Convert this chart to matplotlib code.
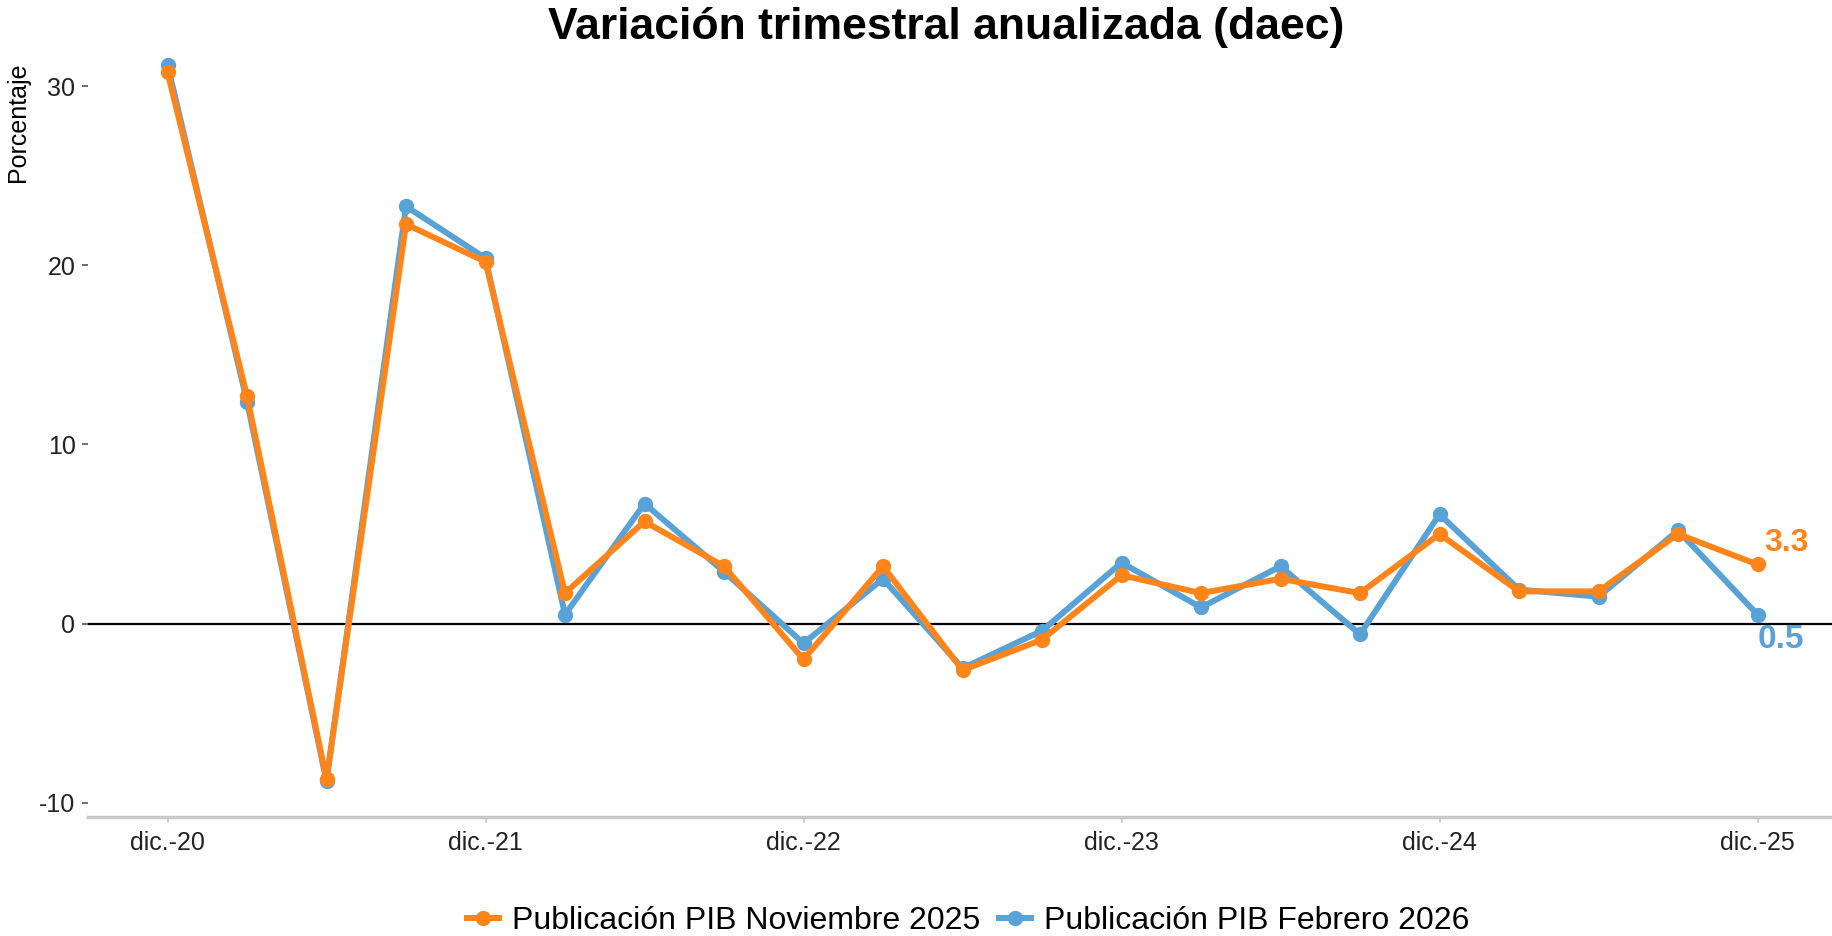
import numpy as np
import matplotlib
matplotlib.use("Agg")
import matplotlib.pyplot as plt
from matplotlib.lines import Line2D

plt.rcParams['font.family'] = ['Liberation Sans', 'DejaVu Sans']
plt.rcParams['axes.unicode_minus'] = False

# trimestres dic-20 .. dic-25
quarters = np.arange(21)
tick_pos = [0, 4, 8, 12, 16, 20]
tick_labels = ['dic.-20', 'dic.-21', 'dic.-22', 'dic.-23', 'dic.-24', 'dic.-25']

nov_2025 = [30.8, 12.7, -8.7, 22.3, 20.2, 1.7, 5.7, 3.2, -2.0, 3.2, -2.6,
            -0.9, 2.7, 1.7, 2.5, 1.7, 5.0, 1.8, 1.8, 5.0, 3.3]
feb_2026 = [31.2, 12.4, -8.8, 23.3, 20.4, 0.5, 6.7, 2.9, -1.1, 2.5, -2.5,
            -0.4, 3.4, 0.9, 3.2, -0.6, 6.1, 1.9, 1.5, 5.2, 0.5]

c_nov = '#FF851B'
c_feb = '#58A2D8'

W, H = 1832, 936
fig = plt.figure(figsize=(W / 100, H / 100), dpi=100)
ax = fig.add_axes([88 / W, 1 - 817 / H, (1837 - 88) / W, (817 - 29) / H])

ax.axhline(0, color='black', lw=1.6, zorder=1)
ax.plot(quarters, feb_2026, color=c_feb, lw=4.3, marker='o', ms=10, zorder=2,
        label='Publicación PIB Febrero 2026')
ax.plot(quarters, nov_2025, color=c_nov, lw=4.3, marker='o', ms=10, zorder=3,
        label='Publicación PIB Noviembre 2025')

ax.text(quarters[-1] + 0.08, nov_2025[-1] + 0.35, f'{nov_2025[-1]:.1f}', color=c_nov,
        fontsize=23, fontweight='bold', ha='left', va='bottom')
ax.text(quarters[-1] + 0.0, feb_2026[-1] - 0.5, f'{feb_2026[-1]:.1f}', color=c_feb,
        fontsize=24, fontweight='bold', ha='left', va='top')

ax.set_xlim(-1, 21)
ax.set_ylim(-10.8, 33.2)
ax.set_xticks(tick_pos)
ax.set_xticklabels(tick_labels)
ax.set_yticks([-10, 0, 10, 20, 30])
ax.tick_params(axis='both', labelsize=18, colors='#222222', length=4, width=1.2)
ax.tick_params(axis='x', color='#c8c8c8', pad=6)
ax.tick_params(axis='y', color='#555555', pad=5)
for s in ['top', 'right', 'left']:
    ax.spines[s].set_visible(False)
ax.spines['bottom'].set_color('#c8c8c8')
ax.spines['bottom'].set_linewidth(2.5)

fig.text(18 / W, 1 - 63 / H, 'Porcentaje', rotation=90, fontsize=18,
         ha='center', va='top')
fig.text(946 / W, 1 - 27 / H, 'Variación trimestral anualizada (daec)',
         fontsize=32, fontweight='bold', ha='center', va='center')

handles = [Line2D([], [], color=c_nov, lw=4.3, marker='o', ms=10),
           Line2D([], [], color=c_feb, lw=4.3, marker='o', ms=10)]
fig.legend(handles, ['Publicación PIB Noviembre 2025', 'Publicación PIB Febrero 2026'],
           loc='center', bbox_to_anchor=(968 / W, 1 - 921 / H), ncol=2, frameon=False,
           fontsize=23, handlelength=1.0, handletextpad=0.4, columnspacing=0.6)

fig.savefig('out.png', dpi=100)
